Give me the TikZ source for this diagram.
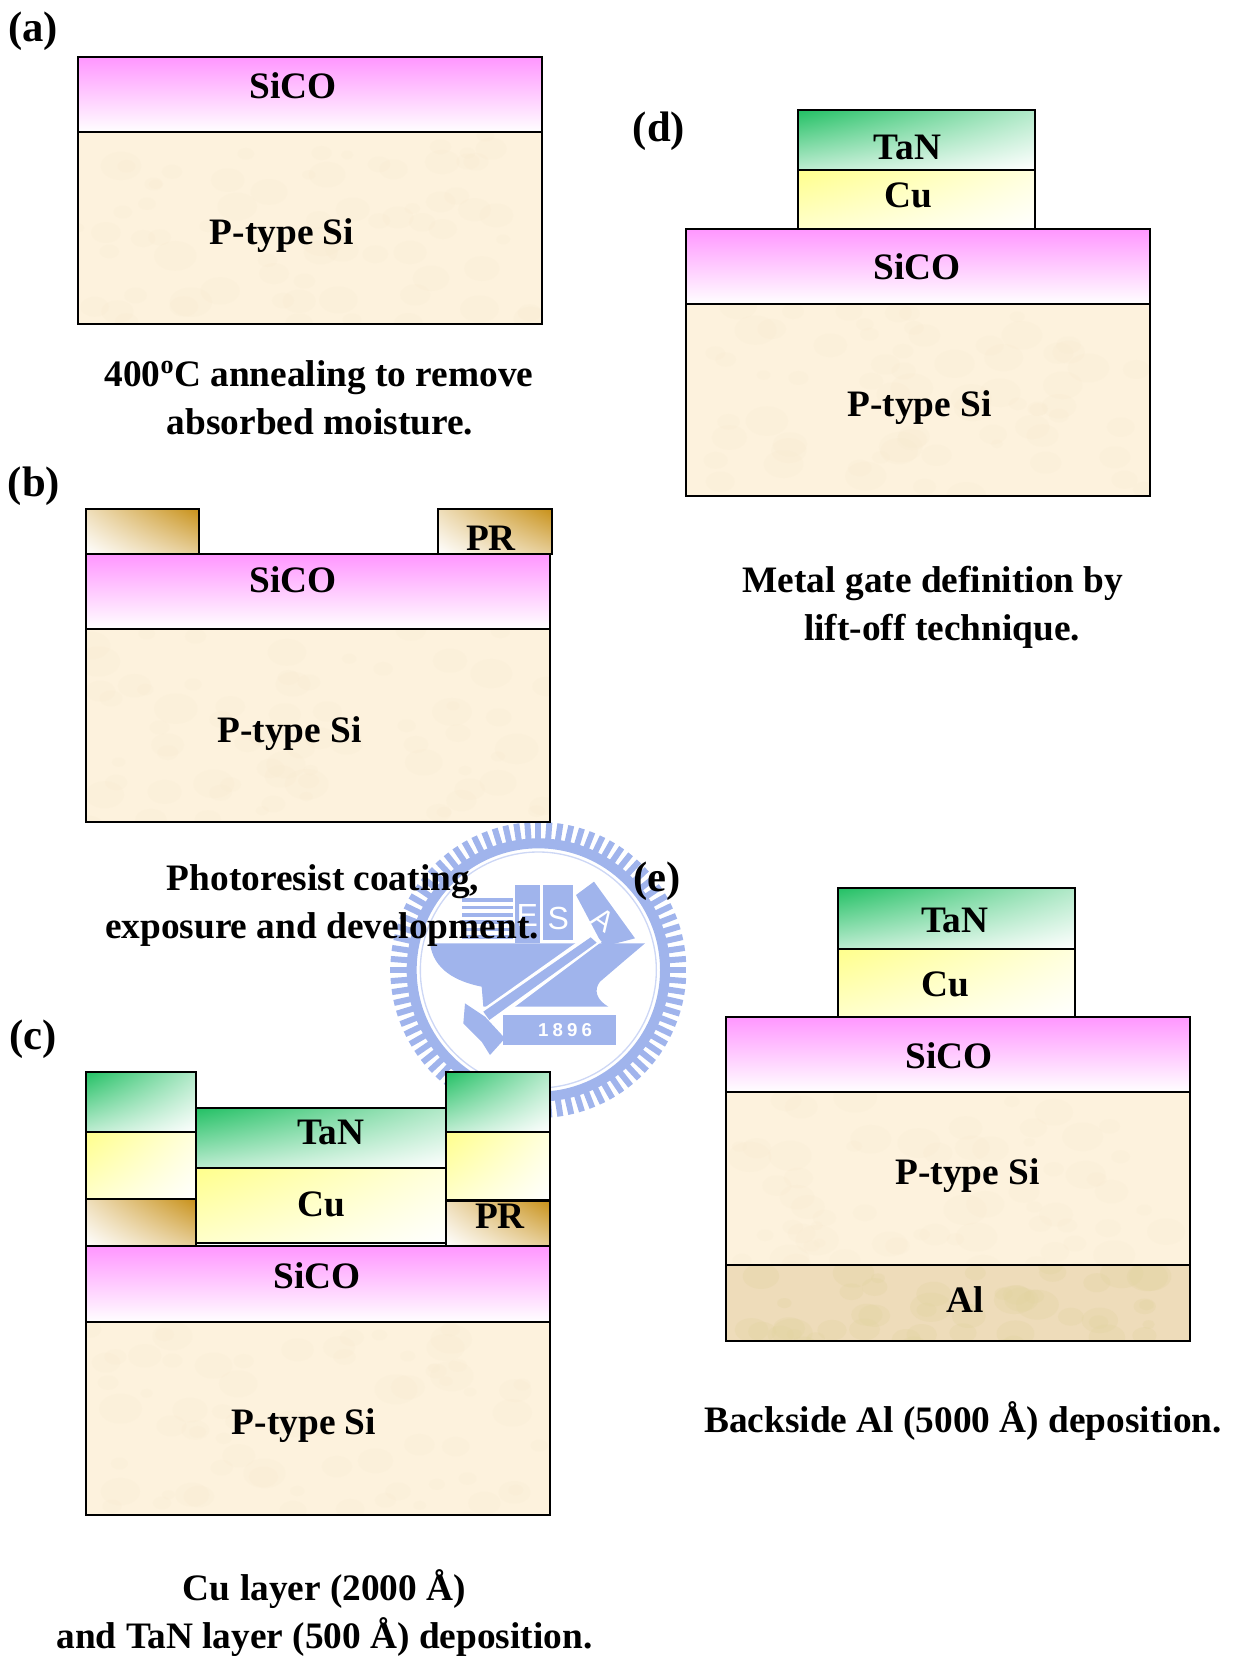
\documentclass[tikz,border=0pt]{standalone}
\usepackage{fontspec}
\setmainfont{Liberation Serif}
\newfontfamily\wmfont{Liberation Sans}
\newfontfamily\wmyear[LetterSpace=22]{Liberation Sans}
\usetikzlibrary{calc, shadings}
\definecolor{cTan}{RGB}{34,192,100}
\definecolor{cCu}{RGB}{255,255,140}
\definecolor{cPR}{RGB}{200,145,25}
\definecolor{cSiCO}{RGB}{255,150,255}
\definecolor{cSi}{RGB}{253,242,221}
\definecolor{cSiDark}{RGB}{244,230,200}
\definecolor{cAl}{RGB}{238,220,186}
\definecolor{cAlDark}{RGB}{226,212,160}
\definecolor{cMark}{RGB}{160,180,236}
\definecolor{cMarkPale}{RGB}{205,215,245}
\tikzset{
	layer/.style={draw=black, line width=1.5pt},
	tanbox/.style={layer, upper left=cTan, lower right=white, upper right=cTan!35, lower left=cTan!30},
	cubox/.style={layer, upper left=cCu, lower right=white, upper right=cCu!30, lower left=cCu!45},
	prbox/.style={layer, upper right=cPR, lower left=white, upper left=cPR!30, lower right=cPR!45},
	sicobox/.style={layer, top color=cSiCO, bottom color=white},
	% mottled fill for the substrate layers
	blotch/.style n args={4}{layer, fill=#1, path picture={
		\foreach \k in {1,...,#3}{
			\pgfmathsetmacro\px{rnd*460}
			\pgfmathsetmacro\py{rnd*200}
			\pgfmathsetmacro\pr{6+rnd*16}
			\fill[#2, opacity=#4] ($(path picture bounding box.north west)+(\px,\py)$) ellipse ({\pr} and {\pr*.7});
		}}},
	sibox/.style={blotch={cSi}{cSiDark}{70}{.12}},
	albox/.style={blotch={cAl}{cAlDark}{120}{.3}},
	txt/.style={anchor=base, inner sep=0pt, font=\fontsize{28}{34}\selectfont\bfseries},
	lab/.style={anchor=base, inner sep=0pt, font=\fontsize{32}{38}\selectfont\bfseries},
	wmark/.style={fill=cMark, draw=none},
}
\begin{document}
\begin{tikzpicture}[x=0.75pt, y=-0.75pt]
	\pgfmathsetseed{1896}
	\useasboundingbox (0,0) rectangle (1237,1656);

	% seal behind the figure
	\begin{scope}[shift={(370,800)}, x=0.25pt, y=-0.25pt]
		\foreach \k in {1,...,84}
			\fill[wmark, rotate around={360/84*\k:(505,510)}] (496,66) rectangle (514,125);
		\fill[wmark, even odd rule] (505,510) circle (395) circle (365);
		\draw[cMarkPale, line width=1pt] (505,510) circle (354);
		\fill[wmark] (435,255) rectangle (510,430);
		\fill[wmark] (520,255) rectangle (610,420);
		\fill[wmark] (618,285) -- (672,245) -- (795,415) -- (700,440) -- cycle;
		\foreach \s in {295,317,...,405}
			\fill[wmark] (275,\s) rectangle (428,\s+11);
		\fill[wmark] (180,430) -- (825,430) -- (760,485) -- (690,545) .. controls (670,570) and (680,600) .. (715,620) -- (440,620) -- (340,620) -- (335,560) .. controls (260,545) and (190,510) .. cycle;
		\fill[white] (320,640) -- (665,395) -- (695,425) -- (375,665) -- cycle;
		\fill[wmark] (340,635) -- (662,412) -- (680,428) -- (358,660) -- cycle;
		\fill[wmark] (285,610) -- (345,650) -- (405,715) -- (360,765) -- (335,725) -- (280,670) -- cycle;
		\fill[wmark] (400,645) rectangle (737,735);
		\node[inner sep=0pt, text=white, font=\fontsize{24}{24}\selectfont\wmfont] (sealE) at (472,345) {E};
		\node[inner sep=0pt, text=white, font=\fontsize{24}{24}\selectfont\wmfont] (sealS) at (565,355) {S};
		\node[inner sep=0pt, text=white, rotate=-35, font=\fontsize{22}{22}\selectfont\wmfont] (sealA) at (700,360) {A};
		\node[inner sep=0pt, text=white, font=\fontsize{14}{14}\selectfont\bfseries\wmyear] (sealYear) at (585,690) {1896};
	\end{scope}

	% (a)
	\node[lab] (labA) at (33,41.5) {(a)};
	\draw[sibox] (78,132) rectangle (542,324);
	\draw[sicobox] (78,57) rectangle (542,132);
	\node[txt] (aSiCO) at (293,98) {SiCO};
	\node[txt] (aSi) at (282,244) {P-type Si};
	\node[txt] (aCapOne) at (319,386) {400\textsuperscript{o}C annealing to remove};
	\node[txt] (aCapTwo) at (320,434) {absorbed moisture.};

	% (b)
	\node[lab] (labB) at (34,496.5) {(b)};
	\draw[sibox] (86,629) rectangle (550,822);
	\draw[sicobox] (86,554) rectangle (550,629);
	\draw[prbox] (86,509) rectangle (199,554);
	\draw[prbox] (438,509) rectangle (552,554);
	\node[txt] (bPR) at (491,550) {PR};
	\node[txt] (bSiCO) at (293,592) {SiCO};
	\node[txt] (bSi) at (289.5,742) {P-type Si};
	\node[txt] (bCapOne) at (323,890.5) {Photoresist coating,};
	\node[txt] (bCapTwo) at (322,938.5) {exposure and development.};

	% (c)
	\node[lab] (labC) at (33,1049) {(c)};
	\draw[sibox] (86,1322) rectangle (550,1515);
	\draw[sicobox] (86,1246) rectangle (550,1322);
	\draw[prbox] (86,1199) rectangle (196,1246);
	\draw[cubox] (86,1132) rectangle (196,1199);
	\draw[tanbox] (86,1072) rectangle (196,1132);
	\draw[cubox] (196,1168) rectangle (446,1243);
	\draw[tanbox] (196,1108) rectangle (446,1168);
	\draw[prbox] (446,1201) rectangle (550,1246);
	\draw[cubox] (446,1132) rectangle (550,1200);
	\draw[tanbox] (446,1072) rectangle (550,1132);
	\node[txt] (cTaN) at (331,1144) {TaN};
	\node[txt] (cCu) at (321,1216) {Cu};
	\node[txt] (cPR) at (500,1228) {PR};
	\node[txt] (cSiCO) at (317,1288) {SiCO};
	\node[txt] (cSi) at (304,1434) {P-type Si};
	\node[txt] (cCapOne) at (324.5,1600.5) {Cu layer (2000 Å)};
	\node[txt] (cCapTwo) at (324.5,1648) {and TaN layer (500 Å) deposition.};

	% (d)
	\node[lab] (labD) at (659,141.5) {(d)};
	\draw[sibox] (686,304) rectangle (1150,495.5);
	\draw[sicobox] (686,228.5) rectangle (1150,304);
	\draw[cubox] (798,169.5) rectangle (1035,228.5);
	\draw[tanbox] (798,110) rectangle (1035,169.5);
	\node[txt] (dTaN) at (907.5,159.5) {TaN};
	\node[txt] (dCu) at (908.5,207) {Cu};
	\node[txt] (dSiCO) at (917,279) {SiCO};
	\node[txt] (dSi) at (919.5,416) {P-type Si};
	\node[txt] (dCapOne) at (933,592.5) {Metal gate definition by};
	\node[txt] (dCapTwo) at (942,640) {lift-off technique.};

	% (e)
	\node[lab] (labE) at (657,891.5) {(e)};
	\draw[albox] (726,1264.5) rectangle (1190,1340.5);
	\draw[sibox] (726,1092) rectangle (1190,1264.5);
	\draw[sicobox] (726,1016.5) rectangle (1190,1092);
	\draw[cubox] (838,949) rectangle (1075,1016.5);
	\draw[tanbox] (838,888) rectangle (1075,949);
	\node[txt] (eTaN) at (955,932) {TaN};
	\node[txt] (eCu) at (945,996) {Cu};
	\node[txt] (eSiCO) at (949,1068) {SiCO};
	\node[txt] (eSi) at (967.5,1184) {P-type Si};
	\node[txt] (eAl) at (965,1312) {Al};
	\node[txt] (eCap) at (963,1432.5) {Backside Al (5000 Å) deposition.};
\end{tikzpicture}
\end{document}
